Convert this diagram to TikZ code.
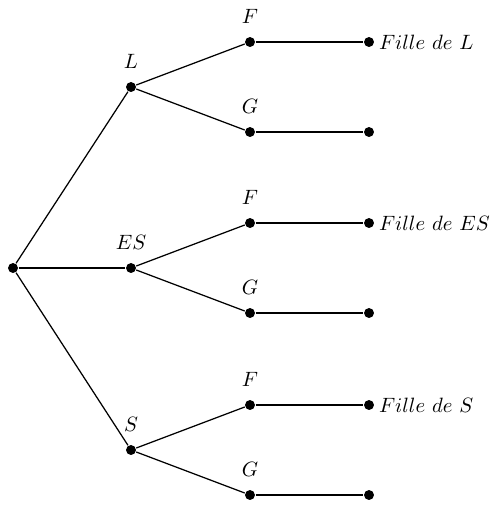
\documentclass[tikz,border=0pt]{standalone}
\begin{document}
\begin{tikzpicture}[x=0.01695cm,y=-0.01695cm,semithick,
  dot/.style={circle,fill,inner sep=0pt,minimum size=4.8pt},
  tag/.style={label distance=2.5pt}]
  \useasboundingbox (0,0) rectangle (502,512);
  % root of the tree
  \node[dot] (root) at (13,268) {};

  % first level: L, ES, S; second level: F and G
  \foreach \br/\y in {L/87,ES/268,S/450} {
    \node[dot,label={[tag]above:$\br$}] (\br) at (131,\y) {};
    \draw (root) -- (\br);
    \node[dot,label={[tag]above:$F$}] (\br F) at (250,{\y-45}) {};
    \node[dot,label={[tag]above:$G$}] (\br G) at (250,{\y+45}) {};
    \draw (\br) -- (\br F);
    \draw (\br) -- (\br G);
    \node[dot,label={[label distance=-1.5pt]right:$Fille\ de\ \br$}] (\br Fend) at (369,{\y-45}) {};
    \node[dot] (\br Gend) at (369,{\y+45}) {};
    \draw (\br F) -- (\br Fend);
    \draw (\br G) -- (\br Gend);
  }
\end{tikzpicture}
\end{document}
